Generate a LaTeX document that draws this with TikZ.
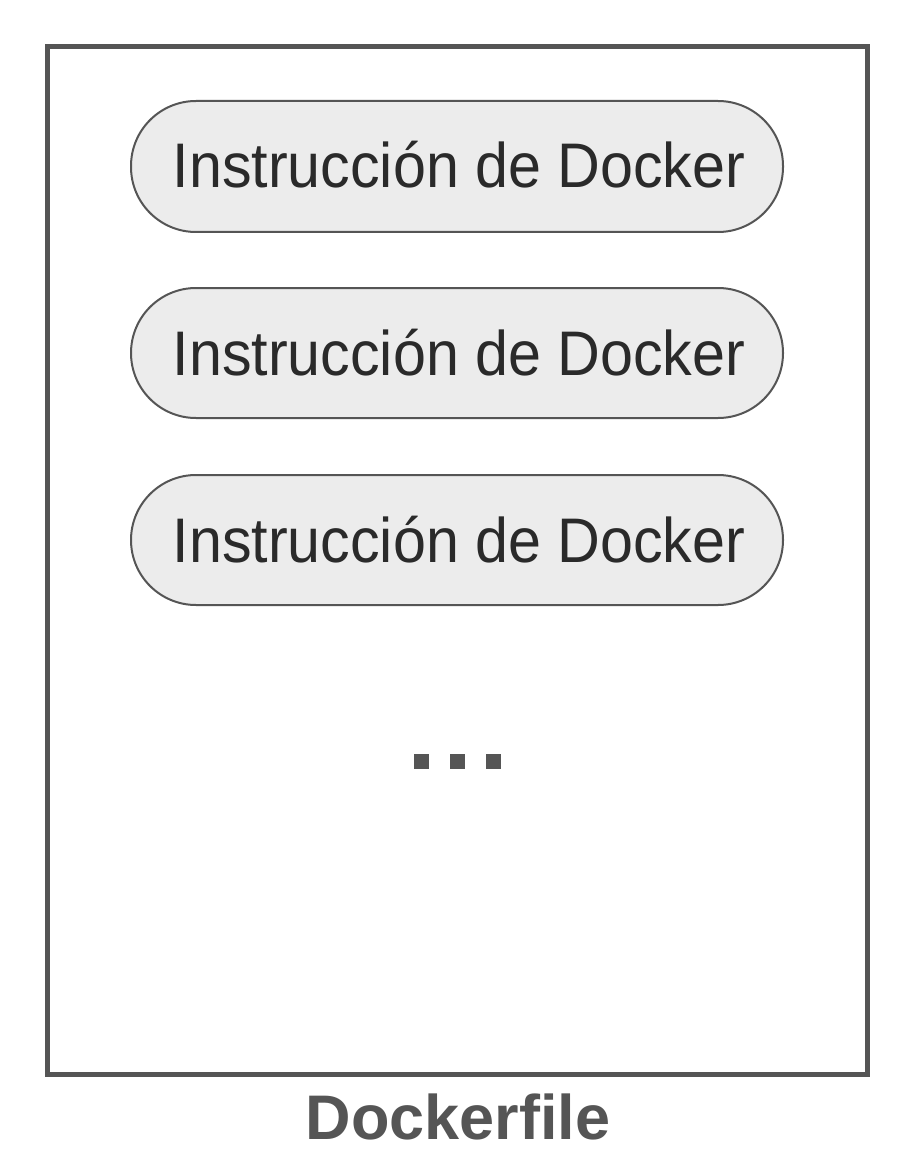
\documentclass[tikz,border=0pt]{standalone}
\usepackage{fontspec}
\setmainfont{Liberation Sans}
\newfontfamily\pillfont[FakeStretch=0.94]{Liberation Sans}
\definecolor{frame}{HTML}{555555}
\definecolor{pillfill}{HTML}{ECECEC}
\definecolor{txt}{HTML}{2A2A2A}
\begin{document}
\begin{tikzpicture}[x=1pt,y=-1pt,
  pill/.style={draw=frame, line width=2pt, fill=pillfill, rounded corners=65pt},
  pilltext/.style={anchor=base, inner sep=0pt, text=txt, font=\pillfont\fontsize{63}{70}\selectfont},
  dot/.style={fill=frame, draw=none}]
\useasboundingbox (0,0) rectangle (912,1174);
\fill[white] (0,0) rectangle (912,1174);
\draw[frame, line width=5.5pt] (47.5,46.5) rectangle (867.5,1074.5);
\foreach \i/\t/\b in {1/101/232, 2/288/418, 3/475/605}{
  \draw[pill] (131,\t) rectangle (783,\b);
}
\node[pilltext] (p1) at (459,188) {Instrucción de Docker};
\node[pilltext] (p2) at (459,375) {Instrucción de Docker};
\node[pilltext] (p3) at (459,562) {Instrucción de Docker};
\fill[dot] (414,754) rectangle (429,769);
\fill[dot] (450,754) rectangle (465,769);
\fill[dot] (486,754) rectangle (501,769);
\node[anchor=base, inner sep=0pt, text=frame, font=\bfseries\fontsize{63}{70}\selectfont] (title) at (458,1139) {Dockerfile};
\end{tikzpicture}
\end{document}
